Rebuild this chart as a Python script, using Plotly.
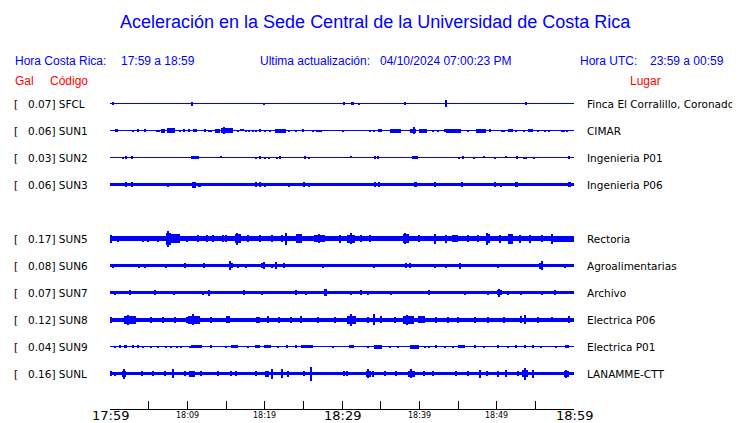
import plotly.graph_objects as go

# ---------------- data ----------------
CODES = ["SFCL", "SUN1", "SUN2", "SUN3", "SUN5", "SUN6", "SUN7", "SUN8", "SUN9", "SUNL"]
GAL = ["0.07", "0.06", "0.03", "0.06", "0.17", "0.08", "0.07", "0.12", "0.04", "0.16"]
PLACES = ["Finca El Corralillo, Coronado", "CIMAR", "Ingenieria P01", "Ingenieria P06",
          "Rectoria", "Agroalimentarias", "Archivo", "Electrica P06", "Electrica P01",
          "LANAMME-CTT"]
ROW_SLOT = [0, 1, 2, 3, 5, 6, 7, 8, 9, 10]          # SUN4 slot is empty
BASE_AMP = [0.5, 0.5, 0.5, 1.5, 2.5, 1.5, 1.5, 2.0, 0.5, 1.8]  # background noise half-amplitude

# events: (minute after 17:59, duration in minutes, half-amplitude)
SFCL_EV = [(0.39, 0.13, 1.5), (10.6, 0.13, 2), (19.9, 0.13, 1), (30.3, 0.13, 1.5),
           (31.3, 0.4, 1.5), (32.2, 0.13, 1), (38.2, 0.13, 1.5), (43.5, 0.15, 3.5),
           (53.8, 0.13, 1.5)]
SUN1_EV = [(0.82, 0.43, 1.5), (2.98, 0.13, 1), (3.63, 0.15, 1.5), (4.49, 0.3, 1.5),
           (6.08, 0.13, 1), (6.34, 0.13, 1), (6.86, 0.43, 2), (7.89, 1.1, 2.5),
           (9.0, 0.13, 1), (9.66, 0.2, 1.5), (10.18, 0.13, 1.5), (10.99, 0.5, 1.5),
           (12.29, 0.3, 1.5), (12.76, 0.13, 1), (13.02, 0.13, 1), (13.84, 0.65, 2),
           (15.13, 1.5, 2.5), (14.83, 0.2, 3.5), (16.55, 0.13, 1), (16.9, 0.13, 0.8),
           (17.2, 0.13, 0.8), (17.63, 0.13, 1), (17.93, 0.13, 1), (18.49, 0.13, 1),
           (18.93, 0.13, 1), (19.4, 0.3, 1.5), (20.0, 0.13, 1), (20.7, 0.13, 1),
           (22.1, 1.4, 2), (23.2, 0.13, 1), (24.0, 0.13, 1), (25.0, 0.13, 1.5),
           (26.25, 0.13, 1), (26.77, 0.13, 1), (27.03, 0.13, 1), (27.33, 0.13, 1),
           (30.1, 0.13, 1), (33.6, 0.13, 1), (34.1, 0.13, 1), (34.9, 0.43, 1.5),
           (36.9, 1.4, 2), (39.2, 0.85, 2), (39.3, 0.13, 3.5), (40.5, 1.0, 2),
           (41.8, 0.13, 1), (42.4, 0.13, 1), (43.3, 0.3, 1.5), (44.4, 1.85, 2),
           (46.3, 0.13, 1), (48.0, 1.3, 2), (49.1, 0.13, 1.5), (50.7, 0.13, 1),
           (51.0, 0.13, 1), (51.8, 0.55, 1.5), (52.5, 0.13, 1), (53.5, 0.13, 1),
           (54.4, 0.65, 1.5), (55.3, 0.13, 1), (56.2, 0.13, 1), (56.8, 0.13, 1),
           (58.4, 0.13, 1), (58.7, 0.13, 1), (59.1, 0.13, 1)]
SUN2_EV = [(1.69, 0.13, 1), (2.12, 0.2, 1.5), (2.89, 0.25, 1.5), (11.0, 1.0, 1.5),
           (14.4, 0.13, 0.8), (18.9, 0.13, 1), (19.4, 0.35, 1.5), (20.1, 0.13, 1),
           (20.5, 0.13, 1), (21.6, 0.13, 1), (22.0, 0.13, 1.2), (25.2, 0.3, 1.5),
           (25.7, 0.13, 1), (31.2, 0.13, 0.8), (34.3, 0.2, 1.5), (34.7, 0.2, 1.5),
           (39.4, 0.75, 1.5), (45.1, 0.13, 1), (45.7, 0.13, 1.2), (47.1, 0.13, 1),
           (48.4, 0.13, 0.8), (49.8, 0.13, 1), (51.2, 0.13, 0.8), (52.6, 0.2, 1.5),
           (53.5, 0.13, 1), (53.8, 0.13, 1), (54.8, 0.13, 1), (59.4, 0.2, 1.5)]
SUN3_EV = [(2.03, 0.13, 2.5), (2.89, 0.25, 2.5), (7.5, 0.13, 2), (10.9, 0.5, 3),
           (11.5, 0.13, 2), (11.7, 0.13, 2), (18.9, 0.13, 2.5), (19.4, 0.25, 2.5),
           (20.1, 0.13, 2), (23.2, 0.13, 2), (25.1, 0.35, 2.5), (25.7, 0.13, 2),
           (34.3, 0.13, 2.5), (34.8, 0.25, 2.5), (39.5, 0.45, 2.5), (42.0, 0.13, 2.5),
           (45.5, 0.13, 2.5), (49.8, 0.13, 2.5), (50.6, 0.13, 2), (52.6, 0.35, 2.5),
           (59.4, 0.3, 2.5)]
SUN5_EV = [(0.09, 0.15, 4), (1.04, 0.13, 3), (4.3, 0.13, 3), (4.9, 0.13, 3),
           (6.2, 0.13, 3), (7.6, 0.6, 6), (7.5, 0.15, 8), (8.4, 1.2, 4.5), (9.9, 0.13, 3),
           (11.4, 0.13, 3.5), (12.5, 0.13, 3.5), (13.3, 0.13, 3.5), (14.6, 0.13, 3.5),
           (15.0, 0.13, 3.5), (16.5, 0.8, 4.5), (16.4, 0.15, 6), (17.85, 0.13, 3.5),
           (19.4, 0.13, 3.5), (20.9, 0.13, 3.5), (22.2, 0.13, 3.5), (22.8, 0.13, 6),
           (24.4, 0.8, 4.5), (27.1, 1.5, 3.5), (27.0, 0.13, 4.5), (29.7, 0.13, 4),
           (31.2, 1.0, 4), (31.1, 0.13, 5.5), (32.5, 0.13, 3.5), (33.6, 0.13, 3.5),
           (38.3, 0.85, 4.5), (38.2, 0.13, 5.5), (40.0, 0.13, 3.5), (42.0, 0.13, 5),
           (43.4, 0.13, 4), (44.6, 0.85, 3.8), (46.3, 0.13, 3.5), (47.6, 0.13, 3.5),
           (48.9, 0.6, 4.5), (48.8, 0.13, 6), (50.4, 0.13, 4), (51.8, 0.6, 5),
           (53.0, 0.13, 4), (54.3, 0.13, 4), (55.8, 0.13, 3.5), (57.1, 0.13, 5),
           (58.6, 2.9, 3)]
SUN6_EV = [(0.39, 0.13, 2), (3.8, 0.13, 2), (4.5, 0.13, 2), (7.3, 0.13, 2),
           (9.66, 0.13, 2.5), (12.2, 0.13, 2.5), (15.6, 0.5, 2.5), (15.55, 0.13, 4.5),
           (16.6, 0.13, 2), (17.6, 0.13, 2), (19.6, 0.13, 2.5), (19.9, 0.13, 3.5),
           (20.9, 0.13, 2), (21.5, 0.13, 3.5), (22.5, 0.3, 2.5), (27.5, 0.13, 2),
           (34.2, 0.13, 2), (38.3, 0.13, 2.5), (38.8, 0.13, 2.5), (42.0, 0.13, 2),
           (43.5, 0.13, 2), (45.3, 0.2, 3), (50.2, 0.13, 2), (55.6, 0.13, 3),
           (55.8, 0.13, 4.5), (58.8, 0.13, 2)]
SUN7_EV = [(0.6, 0.13, 2), (2.55, 0.13, 2.5), (5.8, 0.13, 2.5), (8.3, 0.13, 2),
           (12.0, 0.13, 2), (12.8, 0.13, 3), (17.3, 0.13, 2.5), (19.6, 0.13, 2),
           (24.1, 0.13, 2.5), (25.4, 0.13, 2), (27.9, 0.4, 3.5), (31.2, 0.13, 2),
           (32.5, 0.13, 2.5), (33.4, 0.13, 2), (36.4, 0.13, 2), (41.3, 0.13, 2.5),
           (45.9, 0.13, 2), (48.9, 0.13, 2), (50.4, 0.6, 2.5), (50.35, 0.13, 4),
           (51.5, 0.13, 2), (53.2, 0.13, 2), (55.8, 0.13, 2), (57.5, 0.13, 2.5)]
SUN8_EV = [(0.18, 0.13, 3), (2.6, 1.5, 4), (2.3, 0.13, 5), (5.35, 0.13, 3),
           (6.9, 0.13, 3), (8.4, 0.13, 3), (9.9, 0.13, 3), (10.9, 1.5, 4),
           (10.7, 0.13, 5.5), (13.1, 0.13, 3), (15.3, 0.5, 3.5), (19.1, 0.5, 3),
           (20.4, 0.13, 3.5), (21.9, 0.13, 3), (23.4, 0.13, 3), (24.7, 0.13, 3.5),
           (26.9, 0.13, 3), (29.1, 0.13, 3), (31.2, 1.1, 4), (31.2, 0.13, 6),
           (33.4, 0.13, 3), (34.2, 0.13, 5.5), (35.1, 0.13, 3.5), (36.8, 0.13, 3),
           (38.6, 1.5, 4), (38.4, 0.13, 5), (40.3, 0.85, 3.5), (42.2, 0.13, 3),
           (43.7, 0.13, 3), (45.0, 0.13, 3), (47.2, 0.13, 3), (48.9, 0.13, 3),
           (51.0, 0.13, 3), (53.2, 0.13, 3.5), (53.7, 0.13, 4.5), (55.3, 0.13, 3),
           (57.1, 0.13, 2.5), (59.4, 0.13, 3.5)]
SUN9_EV = [(0.6, 0.13, 1), (1.25, 0.13, 1.5), (2.0, 0.3, 1.5), (3.0, 0.3, 1.5),
           (3.6, 0.2, 1.5), (4.3, 0.13, 1), (5.3, 0.13, 1), (6.2, 0.13, 1),
           (7.3, 0.13, 1), (7.9, 0.13, 1), (8.6, 0.13, 1), (9.2, 0.13, 1),
           (10.3, 0.13, 1), (11.2, 1.4, 1.5), (13.1, 0.13, 1.2), (15.0, 0.13, 1),
           (16.1, 0.8, 1.5), (17.85, 0.13, 1), (19.1, 0.6, 1.5), (20.4, 0.85, 1.5),
           (21.7, 0.13, 1), (22.9, 0.13, 1.2), (24.0, 0.13, 1.5), (25.5, 1.5, 1.5),
           (28.8, 0.13, 1), (31.2, 0.7, 1.5), (33.4, 0.13, 1), (34.7, 1.0, 2),
           (36.2, 0.13, 1), (37.3, 0.13, 1), (39.4, 1.2, 2), (40.7, 0.13, 1),
           (41.3, 0.13, 1), (42.2, 0.13, 1.2), (43.3, 0.13, 1), (44.4, 0.13, 1),
           (45.4, 0.9, 1.5), (47.2, 0.25, 1.5), (48.3, 0.13, 1), (50.2, 0.25, 1.5),
           (51.5, 0.13, 1), (52.5, 0.3, 1.5), (53.7, 0.3, 1.5), (54.7, 0.2, 1.5),
           (55.7, 0.13, 1), (57.7, 0.13, 1), (59.1, 0.5, 1.5)]
SUNL_EV = [(0.18, 0.13, 2.5), (0.6, 0.13, 2), (1.77, 0.5, 3), (1.75, 0.13, 5),
           (4.1, 0.13, 2.5), (5.6, 0.13, 2.5), (7.1, 0.13, 2.5), (8.2, 0.13, 4.5),
           (9.66, 0.13, 2.5), (10.6, 0.85, 3), (11.8, 0.13, 2.5), (14.0, 0.13, 2.5),
           (15.7, 0.13, 2.5), (16.3, 0.13, 2.5), (18.9, 0.13, 2.5), (20.3, 0.6, 3),
           (20.9, 0.13, 5), (22.2, 0.13, 4.5), (23.0, 0.13, 3), (25.1, 0.3, 2.5),
           (26.0, 0.13, 7), (30.3, 0.13, 2.5), (30.7, 0.13, 2.5), (33.4, 0.6, 3),
           (33.3, 0.13, 4.5), (34.0, 0.13, 3), (35.5, 0.13, 2.5), (37.0, 0.13, 2.5),
           (39.0, 0.9, 3), (38.9, 0.13, 4.5), (40.6, 0.13, 2.5), (41.8, 0.13, 2.5),
           (44.8, 0.13, 2.5), (46.3, 0.13, 2.5), (47.8, 0.13, 4), (48.7, 0.13, 2.5),
           (50.2, 0.13, 3), (51.2, 0.13, 3.5), (52.8, 0.13, 2.5), (53.7, 0.8, 3.5),
           (53.6, 0.13, 6), (54.7, 0.13, 4), (59.0, 0.6, 3), (58.95, 0.13, 4)]
EVENTS = [SFCL_EV, SUN1_EV, SUN2_EV, SUN3_EV, SUN5_EV, SUN6_EV, SUN7_EV, SUN8_EV,
          SUN9_EV, SUNL_EV]

TICK_MIN = list(range(0, 61, 5))
LABEL_MIN = [0, 10, 20, 30, 40, 50, 60]
LABEL_TXT = ["17:59", "18:09", "18:19", "18:29", "18:39", "18:49", "18:59"]
MAJOR_LABEL = [True, False, False, True, False, False, True]

# ---------------- layout constants (page pixels) ----------------
W, H = 740, 423
OFF = 8                  # default page margin around the figure
L, R = 110, 574          # plot area on the page
T, B = 90, 409
ROW0_PX, ROW_PX = 103.5, 27.0
TXT_PAD = 2              # annotation inner padding
BLUE = "#0000FF"
RED = "#FF0000"


def px_x(p):
    return (p - L) / (R - L)


def px_y(p):
    return (B - p) / (B - T)


fig = go.Figure()
for i, ev in enumerate(EVENTS):
    slot = ROW_SLOT[i]
    xs = [30] + [e[0] for e in ev]
    ws = [60] + [e[1] for e in ev]
    amps = [BASE_AMP[i]] + [e[2] for e in ev]
    fig.add_trace(go.Bar(
        x=xs, y=[2 * a / ROW_PX for a in amps], base=[slot - a / ROW_PX for a in amps],
        width=ws, marker=dict(color=BLUE, line=dict(width=0)),
        showlegend=False, hoverinfo="skip"))

ann = []
hdr = dict(family="Liberation Sans, Arial, sans-serif", size=12, color=BLUE)
ann.append(dict(text="Aceleración en la Sede Central de la Universidad de Costa Rica",
                x=px_x(375), y=px_y(22), xanchor="center", yanchor="middle",
                font=dict(family="Liberation Sans, Arial, sans-serif", size=18, color=BLUE)))
for txt, p in [("Hora Costa Rica:", 15), ("17:59 a 18:59", 121),
               ("Ultima actualización:", 260), ("04/10/2024 07:00:23 PM", 380),
               ("Hora UTC:", 580), ("23:59 a 00:59", 650)]:
    ann.append(dict(text=txt, x=px_x(p - TXT_PAD), y=px_y(61), xanchor="left",
                    yanchor="middle", font=hdr))
red = dict(family="Liberation Sans, Arial, sans-serif", size=12, color=RED)
for txt, p in [("Gal", 15), ("Código", 50), ("Lugar", 630)]:
    ann.append(dict(text=txt, x=px_x(p - TXT_PAD), y=px_y(81), xanchor="left",
                    yanchor="middle", font=red))

lab = dict(family="DejaVu Sans, sans-serif", size=10.5, color="black")
for i, code in enumerate(CODES):
    slot = ROW_SLOT[i]
    ann.append(dict(text="[", x=px_x(14 - TXT_PAD), y=slot, yref="y", xanchor="left",
                    yanchor="middle", font=lab))
    ann.append(dict(text=f"{GAL[i]}] {code}", x=px_x(27.5 - TXT_PAD), y=slot, yref="y",
                    xanchor="left", yanchor="middle", font=lab))
    ann.append(dict(text=PLACES[i], x=px_x(587 - TXT_PAD), y=slot, yref="y",
                    xanchor="left", yanchor="middle", font=lab))

for m, txt, big in zip(LABEL_MIN, LABEL_TXT, MAJOR_LABEL):
    ann.append(dict(text=txt, x=m, xref="x", y=px_y(415.5), xanchor="center",
                    yanchor="middle",
                    font=dict(family="DejaVu Sans, sans-serif", size=13 if big else 8,
                              color="black")))

for a in ann:
    a.setdefault("xref", "paper")
    a.setdefault("yref", "paper")
    a["showarrow"] = False

fig.update_layout(
    width=W, height=H,
    margin=dict(l=L - OFF, r=W - (R - OFF), t=T - OFF, b=H - (B - OFF), pad=0),
    paper_bgcolor="white", plot_bgcolor="white", barmode="overlay", bargap=0,
    annotations=ann, showlegend=False,
    xaxis=dict(range=[0, 60], showgrid=False, zeroline=False, showline=True,
               linecolor="black", linewidth=1, ticks="inside", ticklen=8,
               tickcolor="black", tickwidth=1, tickvals=TICK_MIN,
               showticklabels=False, fixedrange=True),
    yaxis=dict(range=[(B - ROW0_PX) / ROW_PX, (T - ROW0_PX) / ROW_PX],
               visible=False, showgrid=False, zeroline=False, fixedrange=True),
)
fig.write_html("out.html", config={"displayModeBar": False})
